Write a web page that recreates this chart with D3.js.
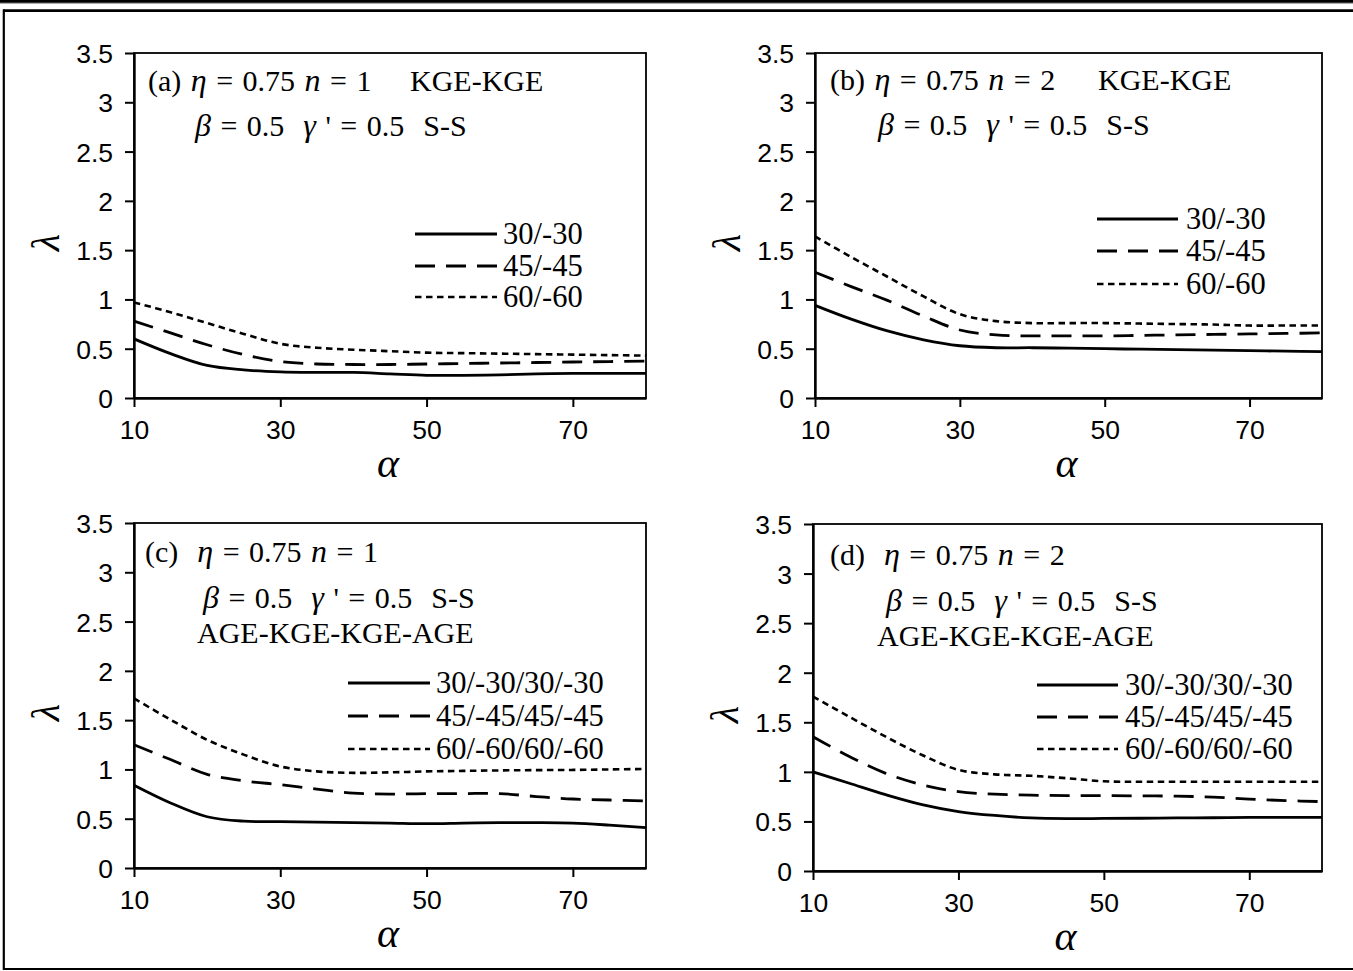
<!DOCTYPE html>
<html><head><meta charset="utf-8">
<script src="https://cdn.jsdelivr.net/npm/d3@7"></script>
<style>body{margin:0;background:#fff} svg{display:block;background:#fff}</style>
</head><body><svg id="c" width="1353" height="971"></svg>
<script>
// ---------- data ----------
const alphaVals = [10,15,20,25,30,35,40,45,50,55,60,65,70,75,80];
const alphaTicks = [10,30,50,70];
const lambdaTicks = [0,0.5,1,1.5,2,2.5,3,3.5];
const lambdaTickLabels = ["0","0.5","1","1.5","2","2.5","3","3.5"];

// panel (a) n=1 KGE-KGE
const a_30 = [0.60,0.45,0.33,0.285,0.265,0.26,0.26,0.245,0.23,0.23,0.235,0.245,0.25,0.25,0.25];
const a_45 = [0.78,0.66,0.54,0.44,0.37,0.345,0.34,0.34,0.345,0.35,0.355,0.36,0.365,0.37,0.375];
const a_60 = [0.97,0.87,0.76,0.65,0.55,0.51,0.49,0.475,0.46,0.455,0.45,0.445,0.44,0.435,0.43];
// panel (b) n=2 KGE-KGE
const b_30 = [0.94,0.80,0.68,0.59,0.53,0.51,0.51,0.505,0.50,0.495,0.49,0.485,0.48,0.475,0.47];
const b_45 = [1.275,1.13,0.99,0.83,0.69,0.64,0.63,0.63,0.63,0.635,0.64,0.645,0.65,0.655,0.66];
const b_60 = [1.64,1.43,1.23,1.03,0.85,0.78,0.76,0.76,0.76,0.755,0.75,0.745,0.735,0.735,0.735];
// panel (c) n=1 AGE-KGE-KGE-AGE
const c_30 = [0.84,0.66,0.52,0.475,0.47,0.465,0.46,0.455,0.45,0.455,0.46,0.46,0.455,0.435,0.41];
const c_45 = [1.25,1.10,0.95,0.885,0.845,0.80,0.76,0.75,0.755,0.755,0.755,0.725,0.70,0.69,0.68];
const c_60 = [1.72,1.505,1.30,1.15,1.03,0.98,0.965,0.97,0.98,0.985,0.99,0.993,0.995,1.0,1.005];
// panel (d) n=2 AGE-KGE-KGE-AGE
const d_30 = [1.00,0.885,0.77,0.67,0.60,0.56,0.535,0.528,0.53,0.532,0.535,0.537,0.54,0.54,0.54];
const d_45 = [1.355,1.155,0.985,0.87,0.80,0.775,0.765,0.76,0.76,0.758,0.755,0.745,0.725,0.71,0.70];
const d_60 = [1.76,1.555,1.355,1.17,1.02,0.975,0.96,0.935,0.905,0.90,0.90,0.90,0.90,0.90,0.90];

const legend2 = ["30/-30","45/-45","60/-60"];
const legend4 = ["30/-30/30/-30","45/-45/45/-45","60/-60/60/-60"];

// ---------- styles ----------
const dashes = [null, "20,11", "6.5,4.5"];
const widths = [2.8, 2.8, 2.6];

const panels = [
  {L:134,R:646,T:53,B:398, series:[a_30,a_45,a_60], legend:legend2,
   lg:{x1:415,x2:497,tx:503,ys:[234,266,297]},
   notes:[
     {x:148,y:91,parts:[["(a) ",0],["η",1],[" = 0.75 ",0],["n",1],[" = 1",0]]},
     {x:410,y:91,parts:[["KGE-KGE",0]]},
     {x:195,y:136,parts:[["β",1],[" = 0.5  ",0],["γ",1],[" ' = 0.5  S-S",0]]}
   ]},
  {L:815,R:1322,T:53,B:398, series:[b_30,b_45,b_60], legend:legend2,
   lg:{x1:1097,x2:1178,tx:1186,ys:[219,251,284]},
   notes:[
     {x:830,y:90,parts:[["(b) ",0],["η",1],[" = 0.75 ",0],["n",1],[" = 2",0]]},
     {x:1098,y:90,parts:[["KGE-KGE",0]]},
     {x:878,y:135,parts:[["β",1],[" = 0.5  ",0],["γ",1],[" ' = 0.5  S-S",0]]}
   ]},
  {L:134,R:646,T:523,B:868, series:[c_30,c_45,c_60], legend:legend4,
   lg:{x1:348,x2:430,tx:436,ys:[683,716,749]},
   notes:[
     {x:145,y:562,parts:[["(c)  ",0],["η",1],[" = 0.75 ",0],["n",1],[" = 1",0]]},
     {x:203,y:608,parts:[["β",1],[" = 0.5  ",0],["γ",1],[" ' = 0.5  S-S",0]]},
     {x:197,y:643,parts:[["AGE-KGE-KGE-AGE",0]]}
   ]},
  {L:813,R:1322,T:524,B:871, series:[d_30,d_45,d_60], legend:legend4,
   lg:{x1:1037,x2:1118,tx:1125,ys:[685,717,749]},
   notes:[
     {x:830,y:565,parts:[["(d)  ",0],["η",1],[" = 0.75 ",0],["n",1],[" = 2",0]]},
     {x:886,y:611,parts:[["β",1],[" = 0.5  ",0],["γ",1],[" ' = 0.5  S-S",0]]},
     {x:877,y:646,parts:[["AGE-KGE-KGE-AGE",0]]}
   ]}
];

const svg = d3.select("#c");
svg.append("rect").attr("width",1353).attr("height",971).attr("fill","#fff");

// outer frame
svg.append("rect").attr("x",0).attr("y",0).attr("width",1353).attr("height",2.8).attr("fill","#000");
svg.append("rect").attr("x",0).attr("y",3).attr("width",1353).attr("height",1).attr("fill","#aaa");
svg.append("line").attr("x1",3).attr("x2",1353).attr("y1",10.6).attr("y2",10.6).attr("stroke","#000").attr("stroke-width",2.6);
svg.append("line").attr("x1",3.8).attr("x2",3.8).attr("y1",9.5).attr("y2",970).attr("stroke","#000").attr("stroke-width",2.2);
svg.append("line").attr("x1",3).attr("x2",1353).attr("y1",969).attr("y2",969).attr("stroke","#000").attr("stroke-width",2.2);

const serif = "'Liberation Serif','Times New Roman',serif";
const sans = "'Liberation Sans',Arial,sans-serif";

panels.forEach(p => {
  const x = d3.scaleLinear().domain([10,80]).range([p.L,p.R]);
  const y = d3.scaleLinear().domain([0,3.5]).range([p.B,p.T]);
  const g = svg.append("g");

  g.append("rect").attr("x",p.L).attr("y",p.T).attr("width",p.R-p.L).attr("height",p.B-p.T)
    .attr("fill","none").attr("stroke","#000").attr("stroke-width",1.8);

  const ya = g.append("g").attr("transform",`translate(${p.L},0)`)
    .call(d3.axisLeft(y).tickValues(lambdaTicks).tickSize(9).tickSizeOuter(0)
      .tickFormat((d,i)=>lambdaTickLabels[i]));
  ya.select(".domain").attr("stroke","#000").attr("stroke-width",2.4);
  ya.selectAll(".tick line").attr("stroke","#000").attr("stroke-width",2);
  ya.selectAll(".tick text").attr("x",-21).attr("dy","0.36em")
    .attr("font-family",sans).attr("font-size",26.5).attr("fill","#000");

  const xa = g.append("g").attr("transform",`translate(0,${p.B})`)
    .call(d3.axisBottom(x).tickValues(alphaTicks).tickSize(9).tickSizeOuter(0).tickFormat(d3.format("d")));
  xa.select(".domain").attr("stroke","#000").attr("stroke-width",2.6);
  xa.selectAll(".tick line").attr("stroke","#000").attr("stroke-width",2);
  xa.selectAll(".tick text").attr("y",22).attr("dy","0.71em")
    .attr("font-family",sans).attr("font-size",26.5).attr("fill","#000");

  g.append("text").attr("x",(p.L+p.R)/2 - 2).attr("y",p.B+79).attr("text-anchor","middle")
    .attr("font-family",serif).attr("font-style","italic").attr("font-size",42).attr("fill","#000").text("α");
  g.append("text").attr("transform",`translate(${p.L-75},${(p.T+p.B)/2+17}) rotate(-90)`)
    .attr("text-anchor","middle").attr("font-family",serif).attr("font-style","italic")
    .attr("font-size",40).attr("fill","#000").text("λ");

  const line = d3.line().x((d,i)=>x(alphaVals[i])).y(d=>y(d)).curve(d3.curveCatmullRom.alpha(0.5));
  p.series.forEach((s,k) => {
    g.append("path").datum(s).attr("d",line).attr("fill","none").attr("stroke","#000")
      .attr("stroke-width",widths[k]).attr("stroke-dasharray",dashes[k]);
  });

  p.legend.forEach((name,k) => {
    const yy = p.lg.ys[k];
    g.append("line").attr("x1",p.lg.x1).attr("x2",p.lg.x2).attr("y1",yy).attr("y2",yy)
      .attr("stroke","#000").attr("stroke-width",widths[k]).attr("stroke-dasharray",dashes[k]);
    g.append("text").attr("x",p.lg.tx).attr("y",yy+10).attr("font-family",serif)
      .attr("font-size",30.5).attr("fill","#000").text(name);
  });

  p.notes.forEach(n => {
    const t = g.append("text").attr("x",n.x).attr("y",n.y).attr("font-family",serif)
      .attr("font-size",30).attr("fill","#000").attr("xml:space","preserve")
      .style("white-space","pre").style("word-spacing","2px");
    n.parts.forEach(([s,it]) => {
      t.append("tspan").attr("font-style",it?"italic":"normal")
        .attr("font-size", it ? 32 : 30).text(s);
    });
  });
});
</script></body></html>
